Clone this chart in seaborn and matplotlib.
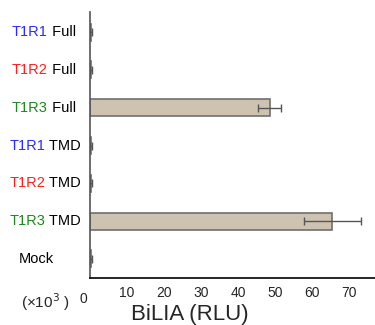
import numpy as np
import seaborn as sns
import matplotlib.pyplot as plt

# data (x10^3 RLU)
receptors = ["T1R1", "T1R2", "T1R3", "T1R1", "T1R2", "T1R3", "Mock"]
constructs = [" Full", " Full", " Full", " TMD", " TMD", " TMD", ""]
name_colors = ["#2a2aff", "#ff2020", "#1a8a1a", "#2a2aff", "#ff2020", "#1a8a1a", "black"]
values = [0.3, 0.3, 48.6, 0.3, 0.3, 65.5, 0.3]
errors = [0.25, 0.25, 3.1, 0.2, 0.2, 7.8, 0.3]
categories = [r + c for r, c in zip(receptors, constructs)]

sns.set_style("white")
plt.rcParams["font.family"] = ["Liberation Sans", "DejaVu Sans"]

fig = plt.figure(figsize=(3.75, 3.25), dpi=100)
ax = fig.add_axes([0.24, 0.145, 0.76, 0.818])

sns.barplot(x=values, y=categories, orient="h", color="#cdc3b0",
            edgecolor="#707070", linewidth=1.2, width=0.45,
            errorbar=None, saturation=1, ax=ax)
ax.errorbar(values, np.arange(len(values)), xerr=errors, fmt="none",
            ecolor="#555555", elinewidth=1, capsize=3)

ax.set_xlim(0, 77)
ax.set_ylim(len(values) - 0.55, -0.53)
ax.set_xticks(np.arange(0, 80, 10))
ax.set_xticklabels([""] + [str(t) for t in range(10, 80, 10)], fontsize=10)
ax.set_yticks(np.arange(-0.5, len(values), 1.0))
ax.set_yticklabels([])
ax.tick_params(axis="x", direction="in", length=3, width=1, pad=6)
ax.tick_params(axis="y", direction="out", length=2, width=1.5, color="#333333")

for side in ["top", "right"]:
    ax.spines[side].set_visible(False)
ax.spines["bottom"].set_color("black")
ax.spines["bottom"].set_linewidth(1.2)
ax.spines["left"].set_color("#555555")
ax.spines["left"].set_linewidth(1.2)

# two-coloured category labels
trans = ax.get_yaxis_transform()
for i, (rec, con, col) in enumerate(zip(receptors, constructs, name_colors)):
    if con:
        xpos = -0.05 if "Full" in con else -0.032
        t = ax.text(xpos, i, con, transform=trans, ha="right", va="center",
                    fontsize=10.5, color="black")
        ax.annotate(rec, xy=(0, 0.5), xycoords=t, ha="right", va="center",
                    fontsize=10.5, color=col)
    else:
        ax.text(-0.19, i, rec, transform=trans, ha="center", va="center",
                fontsize=10.5, color=col)

ax.text(-0.158, -0.05, r"(×10$^3$ )", transform=ax.transAxes, ha="center",
        va="top", fontsize=11)
ax.text(-0.025, -0.055, "0", transform=ax.transAxes, ha="center",
        va="top", fontsize=10)

ax.set_xlabel("BiLIA (RLU)", fontsize=16)
ax.xaxis.set_label_coords(0.35, -0.1, transform=ax.transAxes)
ax.xaxis.label.set_va("top")

fig.savefig("out.png", dpi=100)
